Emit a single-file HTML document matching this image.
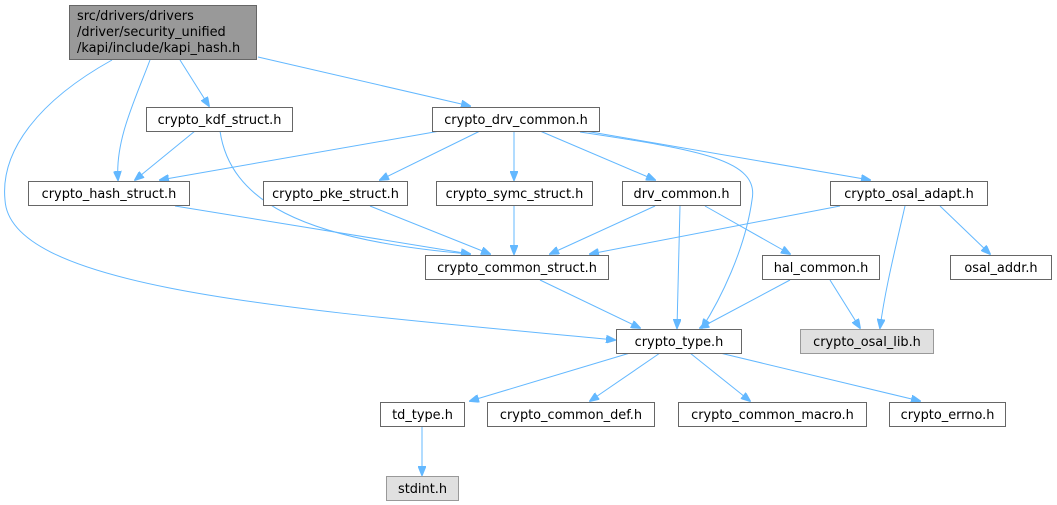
<!DOCTYPE html>
<html><head><meta charset="utf-8"><style>
html,body{margin:0;padding:0;background:#fff;}
svg{display:block;}
text{font-family:"DejaVu Sans","Liberation Sans",sans-serif;font-size:12.9px;fill:#000;}
.n{fill:#fff;stroke:#666;stroke-width:1;}
.e{fill:none;stroke:#63b8ff;stroke-width:1;}
</style></head><body>
<svg width="1057" height="505" viewBox="0 0 1057 505" xmlns="http://www.w3.org/2000/svg">
<defs><marker id="a" markerWidth="10" markerHeight="8" refX="9" refY="4" orient="auto" markerUnits="userSpaceOnUse"><path d="M0,0 L10,4 L0,8 z" fill="#63b8ff" stroke="#63b8ff"/></marker></defs>
<g class="e" marker-end="url(#a)">
<path d="M150,60 C135,100 115,140 118,180"/>
<path d="M180,60 L209,106"/>
<path d="M258,57 L470,106"/>
<path d="M112,60 C40,100 0,150 5,200 C10,290 300,310 615,340"/>
<path d="M195,131 L135,180"/>
<path d="M220,131 C230,200 300,240 470,254"/>
<path d="M440,131 L160,180"/>
<path d="M480,131 L380,180"/>
<path d="M514,131 L514,180"/>
<path d="M540,131 L655,180"/>
<path d="M585,131 L870,180"/>
<path d="M580,132 C700,150 760,160 752,200 C745,250 720,300 702,328"/>
<path d="M175,206 L470,254"/>
<path d="M370,206 L490,254"/>
<path d="M514,206 L514,254"/>
<path d="M655,206 L550,254"/>
<path d="M680,206 L677,328"/>
<path d="M705,206 L790,254"/>
<path d="M840,206 L590,254"/>
<path d="M905,206 C895,250 885,290 880,328"/>
<path d="M940,206 L990,254"/>
<path d="M540,280 L640,328"/>
<path d="M790,280 L700,328"/>
<path d="M830,280 L860,328"/>
<path d="M630,353 L470,401"/>
<path d="M660,353 L590,401"/>
<path d="M690,353 L750,401"/>
<path d="M720,353 L920,401"/>
<path d="M422,427 L422,475"/>
</g>
<rect x="69.5" y="5.5" width="187" height="54" fill="#999" stroke="#666"/>
<text x="77" y="20">src/drivers/drivers</text>
<text x="77" y="36">/driver/security_unified</text>
<text x="77" y="52">/kapi/include/kapi_hash.h</text>
<g>
<rect class="n" x="146.5" y="107.5" width="146" height="24"/><text x="219.5" y="124" text-anchor="middle">crypto_kdf_struct.h</text>
<rect class="n" x="432.5" y="107.5" width="167" height="24"/><text x="516" y="124" text-anchor="middle">crypto_drv_common.h</text>
<rect class="n" x="28.5" y="181.5" width="161" height="24"/><text x="109" y="198" text-anchor="middle">crypto_hash_struct.h</text>
<rect class="n" x="263.5" y="181.5" width="144" height="24"/><text x="335.5" y="198" text-anchor="middle">crypto_pke_struct.h</text>
<rect class="n" x="436.5" y="181.5" width="156" height="24"/><text x="514.5" y="198" text-anchor="middle">crypto_symc_struct.h</text>
<rect class="n" x="622.5" y="181.5" width="118" height="24"/><text x="681.5" y="198" text-anchor="middle">drv_common.h</text>
<rect class="n" x="830.5" y="181.5" width="157" height="24"/><text x="909" y="198" text-anchor="middle">crypto_osal_adapt.h</text>
<rect class="n" x="425.5" y="255.5" width="183" height="24"/><text x="517" y="272" text-anchor="middle">crypto_common_struct.h</text>
<rect class="n" x="762.5" y="255.5" width="117" height="24"/><text x="821" y="272" text-anchor="middle">hal_common.h</text>
<rect class="n" x="950.5" y="255.5" width="101" height="24"/><text x="1001" y="272" text-anchor="middle">osal_addr.h</text>
<rect x="800.5" y="329.5" width="133" height="24" fill="#e0e0e0" stroke="#999"/><text x="867" y="346" text-anchor="middle">crypto_osal_lib.h</text>
<rect class="n" x="616.5" y="329.5" width="125" height="24"/><text x="679" y="346" text-anchor="middle">crypto_type.h</text>
<rect class="n" x="380.5" y="402.5" width="84" height="24"/><text x="422.5" y="419" text-anchor="middle">td_type.h</text>
<rect class="n" x="487.5" y="402.5" width="167" height="24"/><text x="571" y="419" text-anchor="middle">crypto_common_def.h</text>
<rect class="n" x="678.5" y="402.5" width="188" height="24"/><text x="772.5" y="419" text-anchor="middle">crypto_common_macro.h</text>
<rect class="n" x="889.5" y="402.5" width="116" height="24"/><text x="947.5" y="419" text-anchor="middle">crypto_errno.h</text>
<rect x="386.5" y="476.5" width="72" height="24" fill="#e0e0e0" stroke="#999"/><text x="422.5" y="493" text-anchor="middle">stdint.h</text>
</g>
</svg>
</body></html>
